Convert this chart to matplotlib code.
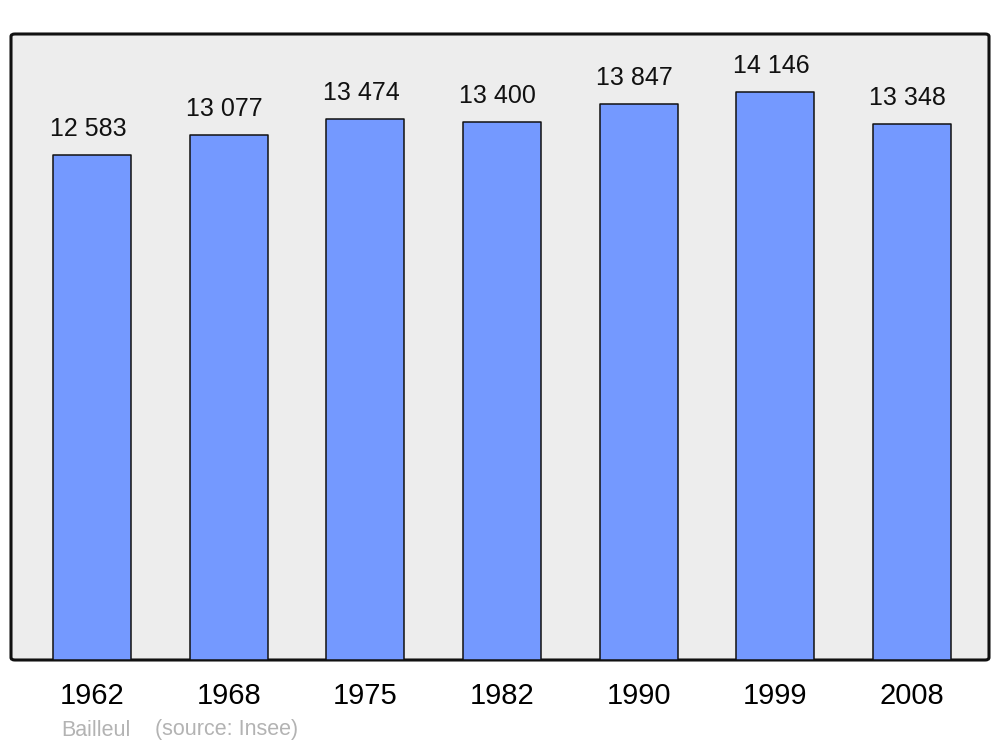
import matplotlib
matplotlib.use("Agg")
from matplotlib import pyplot as plt
from matplotlib.patches import FancyBboxPatch

plt.rcParams['font.family'] = ['Liberation Sans', 'DejaVu Sans']

years = ['1962', '1968', '1975', '1982', '1990', '1999', '2008']
population = [12583, 13077, 13474, 13400, 13847, 14146, 13348]
labels = ['12 583', '13 077', '13 474', '13 400', '13 847', '14 146', '13 348']

fig = plt.figure(figsize=(10, 7.47), dpi=100)
ax = fig.add_axes([0.011, 1 - 660 / 747, 0.978, 626 / 747])

ax.patch.set_visible(False)
for s in ax.spines.values():
    s.set_visible(False)

# rounded grey frame
frame = FancyBboxPatch((0, 0), 1, 1, boxstyle="round,pad=0,rounding_size=0.004",
                       transform=ax.transAxes, facecolor='#ededed',
                       edgecolor='#111111', linewidth=2.2, zorder=0, clip_on=False)
ax.add_patch(frame)

x = list(range(len(years)))
bars = ax.bar(x, population, width=0.571, color='#7499ff', edgecolor='#111111',
              linewidth=1.1, zorder=2)
for b in bars:
    b.set_joinstyle('round')

for xi, v, lab in zip(x, population, labels):
    ax.annotate(lab, (xi, v), xytext=(-3, 13.5), textcoords='offset points',
                ha='center', va='baseline', fontsize=18, color='#111111')

ax.set_xlim(-0.593, 6.563)
ax.set_ylim(0, 15590)
ax.set_yticks([])
ax.set_xticks(x)
ax.set_xticklabels(years, fontsize=21)
ax.tick_params(axis='x', length=0, pad=16)
for t in ax.get_xticklabels():
    t.set_x(t.get_position()[0])

fig.text(0.061, 1 - 730 / 747, 'Bailleul', fontsize=15.5, color='#b3b3b3',
         va='center', ha='left')
fig.text(0.155, 1 - 730 / 747, '(source: Insee)', fontsize=15.5, color='#b3b3b3',
         va='center', ha='left')

fig.savefig('out.png', dpi=100)
